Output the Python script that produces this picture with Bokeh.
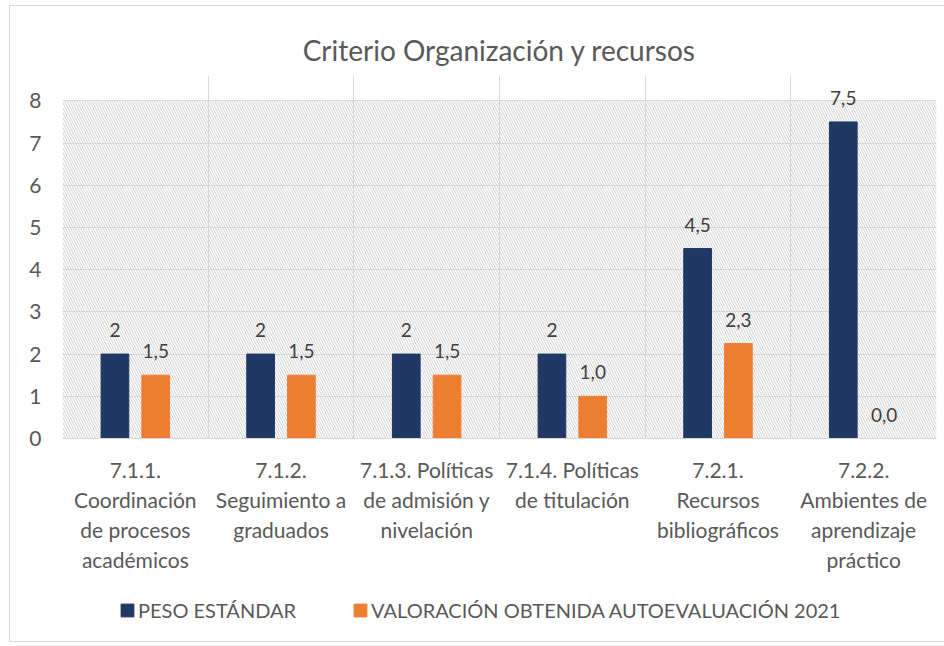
from bokeh.plotting import figure
from bokeh.layouts import column
from bokeh.models import FixedTicker, Range1d, Legend, LegendItem, ColumnDataSource, LabelSet
from bokeh.core.properties import value
from bokeh.embed import file_html
from bokeh.resources import INLINE
import numpy as np

categories = [
    "7.1.1.\nCoordinación\nde procesos\nacadémicos",
    "7.1.2.\nSeguimiento a\ngraduados",
    "7.1.3. Políticas\nde admisión y\nnivelación",
    "7.1.4. Políticas\nde titulación",
    "7.2.1.\nRecursos\nbibliográficos",
    "7.2.2.\nAmbientes de\naprendizaje\npráctico",
]
peso = [2, 2, 2, 2, 4.5, 7.5]
peso_labels = ["2", "2", "2", "2", "4,5", "7,5"]
valoracion = [1.5, 1.5, 1.5, 1.0, 2.25, 0.0]
valoracion_labels = ["1,5", "1,5", "1,5", "1,0", "2,3", "0,0"]
y_ticks = [0, 1, 2, 3, 4, 5, 6, 7, 8]
series_names = ["PESO ESTÁNDAR", "VALORACIÓN OBTENIDA AUTOEVALUACIÓN 2021"]

FONT = "Lato"
NAVY = "#1F3864"
ORANGE = "#ED7D31"
GRID = "#d9d9d9"
TXT = "#595959"

n = len(categories)
ymax = max(y_ticks)
idx = np.arange(n) + 0.5
off = 0.14
bw = 0.19

src = ColumnDataSource(dict(
    xp=idx - off, xv=idx + off, peso=peso, val=valoracion,
    pl=peso_labels, vl=valoracion_labels,
))

# frame extends a little above the top tick so the top value label is not clipped
p = figure(frame_width=874, frame_height=363, output_backend="svg", toolbar_location=None,
           x_range=Range1d(0, n), y_range=Range1d(0, ymax + 0.6),
           min_border_left=52, min_border_right=8, min_border_top=69, min_border_bottom=145)

p.title.text = "Criterio Organización y recursos"
p.title.align = "center"
p.title.text_font = FONT
p.title.text_font_size = "28px"
p.title.text_font_style = "normal"
p.title.text_color = TXT
p.title.standoff = 18

# hatched plot area
p.quad(left=[0], right=[n], bottom=[0], top=[ymax], fill_color=None, line_color=None,
       hatch_pattern="\\", hatch_color="#d2d2d2", hatch_scale=5, hatch_weight=1)

r1 = p.vbar(x="xp", top="peso", width=bw, source=src, fill_color=NAVY, line_color=NAVY)
r2 = p.vbar(x="xv", top="val", width=bw, source=src, fill_color=ORANGE, line_color=ORANGE)

for xcol, ycol, tcol in [("xp", "peso", "pl"), ("xv", "val", "vl")]:
    lab = LabelSet(x=xcol, y=ycol, text=tcol, source=src, text_align="center",
                   text_baseline="alphabetic", y_offset=17, text_font=value(FONT),
                   text_font_size="19px", text_color="#404040")
    p.add_layout(lab)

p.background_fill_color = "white"
p.border_fill_color = "white"
p.outline_line_color = None
p.xgrid.ticker = FixedTicker(ticks=list(range(n + 1)))
p.xgrid.grid_line_color = GRID
p.xgrid.bounds = (0, ymax)
p.ygrid.ticker = FixedTicker(ticks=y_ticks)
p.ygrid.grid_line_color = GRID

p.xaxis.ticker = FixedTicker(ticks=list(idx))
p.xaxis.major_label_overrides = {float(v): c for v, c in zip(idx, categories)}
p.xaxis.major_tick_line_color = None
p.xaxis.minor_tick_line_color = None
p.xaxis.axis_line_color = GRID
p.xaxis.major_label_text_font = FONT
p.xaxis.major_label_text_font_size = "21px"
p.xaxis.major_label_text_color = TXT
p.xaxis.major_label_standoff = 12

p.yaxis.ticker = FixedTicker(ticks=y_ticks)
p.yaxis.major_tick_line_color = None
p.yaxis.minor_tick_line_color = None
p.yaxis.axis_line_color = None
p.yaxis.major_label_text_font = FONT
p.yaxis.major_label_text_font_size = "21px"
p.yaxis.major_label_text_color = TXT
p.yaxis.major_label_standoff = 15

# legend strip below the chart (its bars lie outside its visible range)
p2 = figure(frame_width=874, frame_height=58, output_backend="svg", toolbar_location=None,
            x_range=Range1d(0, n), y_range=Range1d(100, 101),
            x_axis_location=None, y_axis_location=None,
            min_border_left=52, min_border_right=8, min_border_top=0, min_border_bottom=0)
p2.outline_line_color = None
p2.grid.visible = False
l1 = p2.vbar(x="xp", top="peso", width=bw, source=src, fill_color=NAVY, line_color=NAVY)
l2 = p2.vbar(x="xv", top="val", width=bw, source=src, fill_color=ORANGE, line_color=ORANGE)

legend = Legend(items=[LegendItem(label=series_names[0], renderers=[l1]),
                       LegendItem(label=series_names[1], renderers=[l2])],
                orientation="horizontal", location=(57, 19),
                label_text_font=FONT, label_text_font_size="20px", label_text_color=TXT,
                glyph_width=16, glyph_height=16, spacing=56, border_line_color=None,
                background_fill_alpha=0, margin=0, padding=0, label_standoff=3)
p2.add_layout(legend, "center")

layout = column(p, p2, spacing=0,
                styles={"border": "1px solid #d9d9d9", "margin-left": "9px", "margin-top": "5px"})

open("out.html", "w").write(file_html(layout, INLINE))
